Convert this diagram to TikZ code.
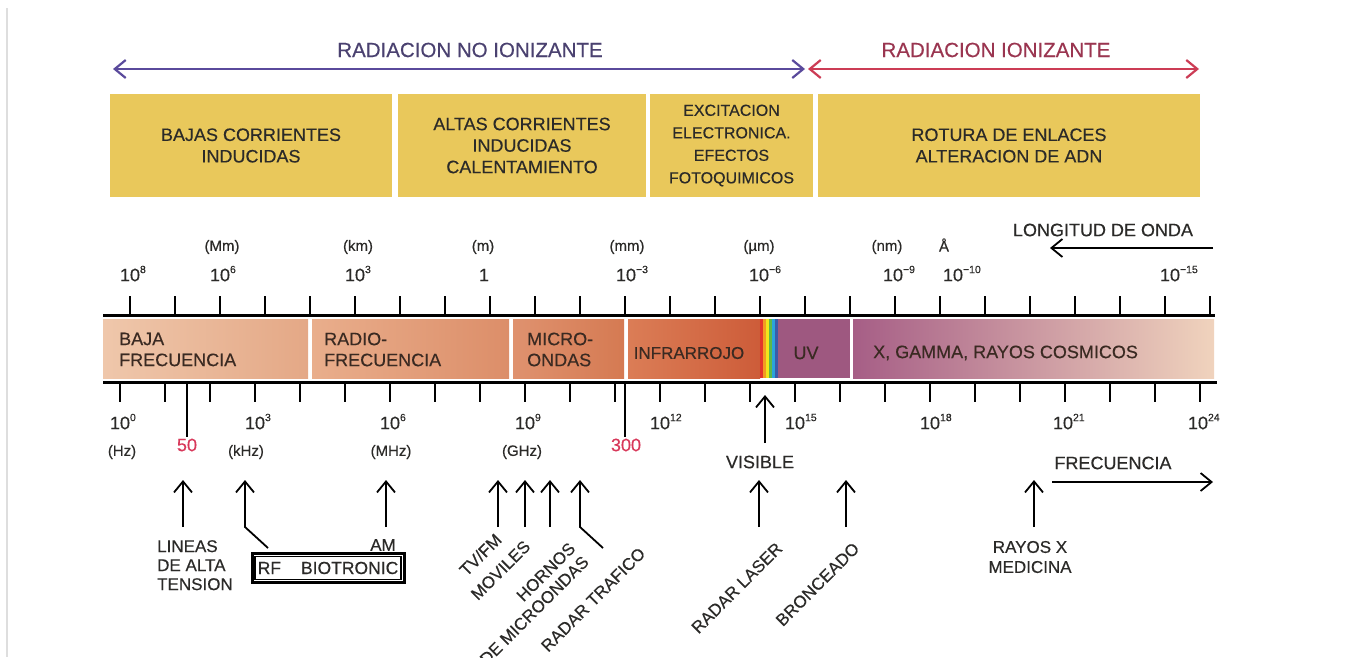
\documentclass[tikz,border=0pt]{standalone}
\usepackage{fontspec}
\setmainfont{Liberation Sans}[FakeBold=0.35]
\usetikzlibrary{arrows.meta}
\definecolor{boxyel}{HTML}{E9C85B}
\definecolor{txt}{HTML}{2B2A28}
\definecolor{bandtxt}{HTML}{3A2A22}
\definecolor{purp}{HTML}{5A4A9C}
\definecolor{purptxt}{HTML}{4A4170}
\definecolor{redar}{HTML}{CC3C55}
\definecolor{redtxt}{HTML}{9A3550}
\definecolor{rednum}{HTML}{D8385A}
\definecolor{b1l}{HTML}{EFC7AB}
\definecolor{b1r}{HTML}{E4A886}
\definecolor{b2l}{HTML}{E9AE8C}
\definecolor{b2r}{HTML}{DC8E69}
\definecolor{b3l}{HTML}{DF926F}
\definecolor{b3r}{HTML}{D57A52}
\definecolor{b4l}{HTML}{DB7D56}
\definecolor{b4r}{HTML}{CD5C39}
\definecolor{uvc}{HTML}{9E5880}
\definecolor{b6l}{HTML}{A65E86}
\definecolor{b6r}{HTML}{F0D3BD}
\definecolor{rb1}{HTML}{E2342B}
\definecolor{rb2}{HTML}{F29B22}
\definecolor{rb3}{HTML}{F2E41C}
\definecolor{rb4}{HTML}{5DB848}
\definecolor{rb5}{HTML}{2BA3DA}
\definecolor{rb6}{HTML}{3A5CA8}
\newcommand{\fsz}[2]{\fontsize{#1}{#2}\selectfont}
\newcommand{\pw}[1]{10\rlap{\raisebox{0.45em}[0pt][0pt]{\fsz{10.5}{10.5}\selectfont #1}}}
\begin{document}
\begin{tikzpicture}[x=1pt,y=-1pt,
  lbl/.style={font=\fsz{18}{20}, text=txt, inner sep=0pt},
  unitlbl/.style={font=\fsz{15}{17}, text=txt, inner sep=0pt},
  toplbl/.style={font=\fsz{20.5}{22}, inner sep=0pt},
  ybox/.style={fill=boxyel, inner sep=0pt, align=center, font=\fsz{18}{21.5}, text=txt},
  bandlbl/.style={font=\fsz{18}{21}, text=bandtxt, inner sep=0pt, align=left},
  rotlbl/.style={font=\fsz{17}{19}, text=txt, inner sep=0pt, rotate=45, anchor=north east},
  axisline/.style={line width=3pt},
  tickline/.style={line width=2.4pt},
  uparr/.style={line width=1.8pt, -{Straight Barb[length=11pt,width=18pt]}},
  toparr/.style={line width=2.2pt, {Straight Barb[length=11pt,width=18pt]}-{Straight Barb[length=11pt,width=18pt]}},
]
\useasboundingbox (0,0) rectangle (1353,657);
\fill[white] (0,0) rectangle (1353,657);
\draw[line width=1.2pt, black!13] (7,8) -- (7,657);

% top arrows
\coordinate (pl) at (113,69);
\coordinate (pr) at (805,69);
\coordinate (rl) at (808,69);
\coordinate (rr) at (1199,69);
\draw[toparr, purp] (pl) -- (pr);
\draw[toparr, redar] (rl) -- (rr);
\node[toplbl, text=purptxt] (lnoion) at (470,50) {RADIACION NO IONIZANTE};
\node[toplbl, text=redtxt] (lion) at (996,50) {RADIACION IONIZANTE};

% effect boxes
\node[ybox, minimum width=282pt, minimum height=103pt] (box1) at (251,145.5) {BAJAS CORRIENTES\\INDUCIDAS};
\node[ybox, minimum width=248pt, minimum height=103pt] (box2) at (522,145.5) {ALTAS CORRIENTES\\INDUCIDAS\\CALENTAMIENTO};
\node[ybox, minimum width=163pt, minimum height=103pt, font=\fsz{16}{22.5}] (box3) at (731.5,145.5) {EXCITACION\\ELECTRONICA.\\EFECTOS\\FOTOQUIMICOS};
\node[ybox, minimum width=382pt, minimum height=103pt] (box4) at (1009,145.5) {ROTURA DE ENLACES\\ALTERACION DE ADN};

% wavelength header
\node[lbl] (longit) at (1103,230) {LONGITUD DE ONDA};
\coordinate (lw1) at (1213,248);
\coordinate (lw2) at (1050,248);
\draw[uparr] (lw1) -- (lw2);

\node[unitlbl] (uMm) at (222,247) {(Mm)};
\node[unitlbl] (ukm) at (358,247) {(km)};
\node[unitlbl] (um) at (483,247) {(m)};
\node[unitlbl] (umm) at (627,247) {(mm)};
\node[unitlbl] (uum) at (759,247) {(µm)};
\node[unitlbl] (unm) at (887,247) {(nm)};
\node[unitlbl] (uang) at (944,245) {Å};

\node[lbl] (w8) at (130,275) {\pw{8}};
\node[lbl] (w6) at (220,275) {\pw{6}};
\node[lbl] (w3) at (355,275) {\pw{3}};
\node[lbl] (w0) at (484,275) {1};
\node[lbl] (wm3) at (626,275) {\pw{−3}};
\node[lbl] (wm6) at (759,275) {\pw{−6}};
\node[lbl] (wm9) at (893,275) {\pw{−9}};
\node[lbl] (wm10) at (953,275) {\pw{−10}};
\node[lbl] (wm15) at (1170,275) {\pw{−15}};

% top axis
\draw[axisline] (103,315) -- (1215,315);
\foreach \i in {0,...,24} \draw[tickline] ({130+45*\i},296) -- ({130+45*\i},315);

% spectrum band
\shade[left color=b1l, right color=b1r] (103,319) rectangle (308,378);
\shade[left color=b2l, right color=b2r] (312,319) rectangle (509,378);
\shade[left color=b3l, right color=b3r] (513,319) rectangle (624,378);
\shade[left color=b4l, right color=b4r] (628,319) rectangle (760,378);
\fill[rb1] (760,319) rectangle (763,378);
\fill[rb2] (763,319) rectangle (766,378);
\fill[rb3] (766,319) rectangle (769,378);
\fill[rb4] (769,319) rectangle (772,378);
\fill[rb5] (772,319) rectangle (775,378);
\fill[rb6] (775,319) rectangle (778,378);
\fill[uvc] (778,319) rectangle (850,378);
\shade[left color=b6l, right color=b6r] (853,319) rectangle (1214,378);

\node[bandlbl, anchor=west] (tbaja) at (119,349.5) {BAJA\\FRECUENCIA};
\node[bandlbl, anchor=west] (tradio) at (324,349.5) {RADIO-\\FRECUENCIA};
\node[bandlbl, anchor=west] (tmicro) at (527,349.5) {MICRO-\\ONDAS};
\node[bandlbl, font=\fsz{17}{20}] (tinfra) at (689,353) {INFRARROJO};
\node[bandlbl] (tuv) at (806,353) {UV};
\node[bandlbl, anchor=west] (tx) at (873,353) {X, GAMMA, RAYOS COSMICOS};

% bottom axis
\draw[axisline] (103,382) -- (1217,382);
\foreach \i in {0,...,24} \draw[tickline] ({120+45*\i},382) -- ({120+45*\i},402);
\coordinate (c50) at (187,437);
\coordinate (a50) at (187,382);
\coordinate (c300) at (625,437);
\coordinate (a300) at (625,382);
\draw[line width=1.6pt] (a50) -- (c50);
\draw[line width=1.6pt] (a300) -- (c300);

\node[lbl] (f0) at (120,423) {\pw{0}};
\node[lbl] (f3) at (255,423) {\pw{3}};
\node[lbl] (f6) at (390,423) {\pw{6}};
\node[lbl] (f9) at (525,423) {\pw{9}};
\node[lbl] (f12) at (660,423) {\pw{12}};
\node[lbl] (f15) at (795,423) {\pw{15}};
\node[lbl] (f18) at (930,423) {\pw{18}};
\node[lbl] (f21) at (1063,423) {\pw{21}};
\node[lbl] (f24) at (1198,423) {\pw{24}};

\node[unitlbl] (uHz) at (122,452) {(Hz)};
\node[unitlbl] (ukHz) at (246,452) {(kHz)};
\node[unitlbl] (uMHz) at (391,452) {(MHz)};
\node[unitlbl] (uGHz) at (522,452) {(GHz)};
\node[lbl, text=rednum] (n50) at (187,445) {50};
\node[lbl, text=rednum] (n300) at (626,445) {300};

\node[lbl] (visible) at (760,462) {VISIBLE};
\coordinate (vt) at (765,443);
\coordinate (vh) at (765,395);
\draw[uparr] (vt) -- (vh);

\node[lbl] (frec) at (1113,463) {FRECUENCIA};
\coordinate (fr1) at (1052,482);
\coordinate (fr2) at (1213,482);
\draw[uparr] (fr1) -- (fr2);

% applications
\coordinate (a1t) at (183,527); \coordinate (a1h) at (183,480);
\draw[uparr] (a1t) -- (a1h);
\coordinate (a2k) at (268,548); \coordinate (a2t) at (245,527); \coordinate (a2h) at (245,480);
\draw[uparr] (a2k) -- (a2t) -- (a2h);
\coordinate (a3t) at (386,527); \coordinate (a3h) at (386,480);
\draw[uparr] (a3t) -- (a3h);
\coordinate (a4t) at (498,527); \coordinate (a4h) at (498,480);
\draw[uparr] (a4t) -- (a4h);
\coordinate (a5t) at (525,527); \coordinate (a5h) at (525,480);
\draw[uparr] (a5t) -- (a5h);
\coordinate (a6t) at (550,527); \coordinate (a6h) at (550,480);
\draw[uparr] (a6t) -- (a6h);
\coordinate (a7k) at (603,548); \coordinate (a7t) at (580,527); \coordinate (a7h) at (580,480);
\draw[uparr] (a7k) -- (a7t) -- (a7h);
\coordinate (a8t) at (759,527); \coordinate (a8h) at (759,480);
\draw[uparr] (a8t) -- (a8h);
\coordinate (a9t) at (846,527); \coordinate (a9h) at (846,480);
\draw[uparr] (a9t) -- (a9h);
\coordinate (a10t) at (1034,527); \coordinate (a10h) at (1034,480);
\draw[uparr] (a10t) -- (a10h);

\node[lbl, font=\fsz{17}{19}, anchor=north west, align=left] (lineas) at (157,540) {LINEAS\\DE ALTA\\TENSION};
\node[lbl, font=\fsz{17}{19}] (am) at (383,545) {AM};
\node[lbl, font=\fsz{17.5}{19}, draw, line width=3pt, minimum width=152pt, minimum height=29pt] (rf) at (328,568) {RF\hspace{20pt}BIOTRONIC};
\draw[line width=1.1pt] ([shift={(4.5,4.5)}]rf.north west) rectangle ([shift={(-4.5,-4.5)}]rf.south east);

\node[rotlbl] (tvfm) at (494,532) {TV/FM};
\node[rotlbl] (movil) at (523,539) {MOVILES};
\node[rotlbl, align=right] (horno) at (568,541) {HORNOS\\DE MICROONDAS};
\node[rotlbl] (radtr) at (638,546) {RADAR TRAFICO};
\node[rotlbl] (radlas) at (775,541) {RADAR LASER};
\node[rotlbl] (bronc) at (852,541) {BRONCEADO};
\node[lbl, font=\fsz{17}{20}, align=center] (rayos) at (1030,557) {RAYOS X\\MEDICINA};
\end{tikzpicture}
\end{document}
